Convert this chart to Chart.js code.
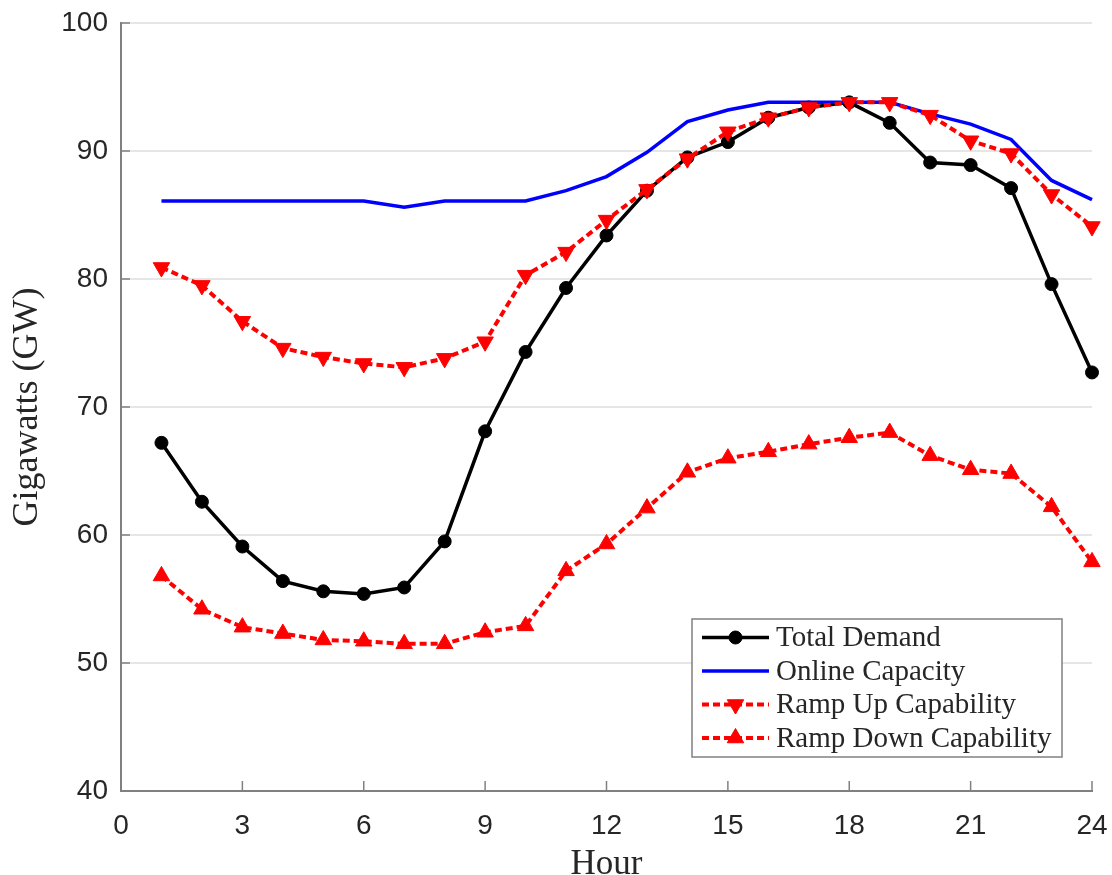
<!DOCTYPE html>
<html>
<head>
<meta charset="utf-8">
<script src="https://cdn.jsdelivr.net/npm/chart.js@4/dist/chart.umd.min.js"></script>
<style>
  html, body { margin: 0; padding: 0; background: #fff; }
  #wrap { width: 1112px; height: 875px; }
</style>
</head>
<body>
<div id="wrap"><canvas id="c" width="1112" height="875"></canvas></div>
<script>
const hours = [1,2,3,4,5,6,7,8,9,10,11,12,13,14,15,16,17,18,19,20,21,22,23,24];
const totalDemand    = [67.2,62.6,59.1,56.4,55.6,55.4,55.9,59.5,68.1,74.3,79.3,83.4,86.9,89.5,90.7,92.6,93.4,93.8,92.2,89.1,88.9,87.1,79.6,72.7];
const onlineCapacity = [86.1,86.1,86.1,86.1,86.1,86.1,85.6,86.1,86.1,86.1,86.9,88.0,89.9,92.3,93.2,93.8,93.8,93.8,93.8,92.9,92.1,90.9,87.7,86.2];
const rampUp         = [80.9,79.5,76.7,74.6,73.9,73.4,73.1,73.8,75.1,80.3,82.1,84.6,87.0,89.4,91.5,92.6,93.4,93.8,93.8,92.8,90.8,89.8,86.6,84.1];
const rampDown       = [56.8,54.2,52.8,52.3,51.8,51.7,51.5,51.5,52.4,52.9,57.2,59.3,62.1,64.9,66.0,66.5,67.1,67.6,68.0,66.2,65.1,64.8,62.2,57.9];
const seriesNames = ['Total Demand','Online Capacity','Ramp Up Capability','Ramp Down Capability'];
const xTickValues = [0,3,6,9,12,15,18,21,24];
const yTickValues = [40,50,60,70,80,90,100];
const xTitle = 'Hour';
const yTitle = 'Gigawatts (GW)';

const pts = arr => arr.map((v,i) => ({x: hours[i], y: v}));
const AXIS = '#808080';
const TXT = '#262626';
const SERIF = '"Liberation Serif", "Times New Roman", serif';
const SANS = '"Liberation Sans", Arial, Helvetica, sans-serif';

function drawMarker(ctx, style, x, y, r, rot, color) {
  ctx.save();
  ctx.fillStyle = color; ctx.strokeStyle = color; ctx.lineWidth = 1; ctx.setLineDash([]);
  ctx.beginPath();
  if (style === 'circle') {
    ctx.arc(x, y, r, 0, Math.PI*2);
  } else if (style === 'triangle') {
    let a = rot * Math.PI/180;
    for (let k = 0; k < 3; k++) {
      const px = x + Math.sin(a)*r, py = y - Math.cos(a)*r;
      if (k === 0) ctx.moveTo(px, py); else ctx.lineTo(px, py);
      a += 2*Math.PI/3;
    }
    ctx.closePath();
  }
  ctx.fill(); ctx.stroke();
  ctx.restore();
}

const tickPlugin = {
  id: 'innerTicks',
  afterDatasetsDraw(chart) {
    const {ctx, chartArea, scales} = chart;
    ctx.save();
    ctx.strokeStyle = AXIS; ctx.lineWidth = 1.5;
    scales.x.ticks.forEach(t => {
      const px = scales.x.getPixelForValue(t.value);
      ctx.beginPath(); ctx.moveTo(px, chartArea.bottom); ctx.lineTo(px, chartArea.bottom - 10); ctx.stroke();
    });
    scales.y.ticks.forEach(t => {
      const py = scales.y.getPixelForValue(t.value);
      ctx.beginPath(); ctx.moveTo(chartArea.left, py); ctx.lineTo(chartArea.left + 9, py); ctx.stroke();
    });
    ctx.restore();
  }
};

const legendPlugin = {
  id: 'boxLegend',
  afterDraw(chart) {
    const {ctx, chartArea} = chart;
    const w = 370, h = 138;
    const x0 = chartArea.right - 30 - w, y0 = chartArea.bottom - 34 - h;
    ctx.save();
    ctx.fillStyle = '#fff';
    ctx.fillRect(x0, y0, w, h);
    ctx.strokeStyle = AXIS; ctx.lineWidth = 1.5;
    ctx.strokeRect(x0, y0, w, h);
    chart.data.datasets.forEach((ds, i) => {
      const yy = y0 + 18.5 + i*33.5;
      const lx0 = x0 + 10, lx1 = x0 + 77, mx = (lx0 + lx1)/2;
      ctx.save();
      ctx.strokeStyle = ds.borderColor; ctx.lineWidth = ds.borderWidth;
      ctx.setLineDash(ds.borderDash || []);
      ctx.beginPath(); ctx.moveTo(lx0, yy); ctx.lineTo(lx1, yy); ctx.stroke();
      ctx.restore();
      if (ds.pointRadius > 0) drawMarker(ctx, ds.pointStyle, mx, yy, ds.pointRadius, ds.pointRotation || 0, ds.borderColor);
      ctx.fillStyle = TXT;
      ctx.font = '29px ' + SERIF;
      ctx.textBaseline = 'middle'; ctx.textAlign = 'left';
      ctx.fillText(ds.label, x0 + 84, yy + 1);
    });
    ctx.restore();
  }
};

new Chart(document.getElementById('c'), {
  type: 'line',
  data: {
    datasets: [
      { label: seriesNames[0], data: pts(totalDemand), borderColor: '#000000', backgroundColor: '#000000',
        borderWidth: 3.5, pointStyle: 'circle', pointRadius: 6.5, pointBorderWidth: 1, order: 4, clip: false },
      { label: seriesNames[1], data: pts(onlineCapacity), borderColor: '#0000ff', backgroundColor: '#0000ff',
        borderWidth: 3.5, pointRadius: 0, order: 3, clip: false },
      { label: seriesNames[2], data: pts(rampUp), borderColor: '#ff0000', backgroundColor: '#ff0000',
        borderWidth: 4, borderDash: [7,4], pointStyle: 'triangle', pointRotation: 180, pointRadius: 9.5, pointBorderWidth: 1, order: 2, clip: false },
      { label: seriesNames[3], data: pts(rampDown), borderColor: '#ff0000', backgroundColor: '#ff0000',
        borderWidth: 4, borderDash: [7,4], pointStyle: 'triangle', pointRotation: 0, pointRadius: 9.5, pointBorderWidth: 1, order: 1, clip: false }
    ]
  },
  options: {
    responsive: false,
    animation: false,
    devicePixelRatio: 1,
    layout: { padding: { left: 0, top: 23, right: 20, bottom: 0 } },
    elements: { line: { tension: 0 } },
    plugins: { legend: { display: false }, tooltip: { enabled: false } },
    scales: {
      x: {
        type: 'linear', min: 0, max: 24,
        afterBuildTicks: s => { s.ticks = xTickValues.map(v => ({value: v})); },
        afterFit: s => { s.height = 84; s.paddingLeft = 0; s.paddingRight = 0; },
        grid: { display: true, color: 'rgba(0,0,0,0)', drawTicks: false },
        border: { display: true, color: AXIS, width: 2 },
        ticks: { color: TXT, font: { family: SANS, size: 28 }, padding: 18, maxRotation: 0, autoSkip: false },
        title: { display: true, text: xTitle, color: TXT, font: { family: SERIF, size: 35, lineHeight: 1 }, padding: { top: 0, bottom: -7 } }
      },
      y: {
        type: 'linear', min: 40, max: 100,
        afterBuildTicks: s => { s.ticks = yTickValues.map(v => ({value: v})); },
        afterFit: s => { s.width = 121; s.paddingTop = 0; s.paddingBottom = 0; },
        grid: { display: true, color: '#e6e6e6', lineWidth: 2, drawTicks: false },
        border: { display: true, color: AXIS, width: 2 },
        ticks: { color: TXT, font: { family: SANS, size: 28 }, padding: 13 },
        title: { display: true, text: yTitle, color: TXT, font: { family: SERIF, size: 36, lineHeight: 1 }, padding: { top: 10, bottom: 0 } }
      }
    }
  },
  plugins: [tickPlugin, legendPlugin]
});
</script>
</body>
</html>
